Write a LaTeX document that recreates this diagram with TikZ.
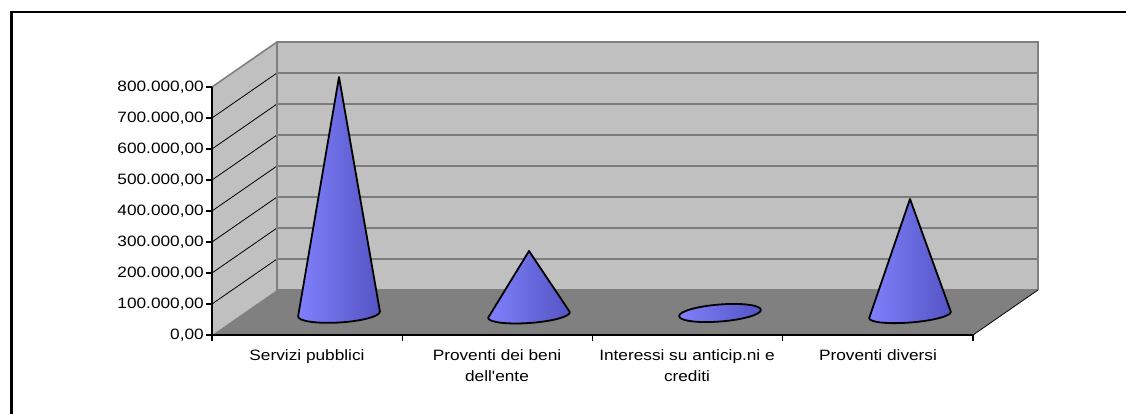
\documentclass[tikz,border=0pt]{standalone}
\usepackage{fontspec}
\newfontfamily\arialx[FakeStretch=1.15]{Liberation Sans}
\definecolor{wallgray}{RGB}{192,192,192}
\definecolor{floorgray}{RGB}{128,128,128}
\definecolor{conelight}{RGB}{128,128,252}
\definecolor{conedark}{RGB}{84,84,196}
\begin{document}
\begin{tikzpicture}[x=1pt,y=-1pt,
  lbl/.style={font=\arialx\fontsize{15}{21}\selectfont, inner sep=0pt, text=black},
  edge/.style={draw=floorgray, line width=1.6pt},
  grid/.style={draw=black, line width=0.8pt},
  axis/.style={draw=black, line width=1.2pt},
  cone/.style={left color=conelight, right color=conedark, draw=black, line width=1.8pt, line join=round}]
\useasboundingbox (0,0) rectangle (1126,414);
\fill[white] (0,0) rectangle (1126,414);
\draw[line width=2.2pt] (11.5,414) -- (11.5,12) -- (1126,12);
% walls and floor
\fill[wallgray] (212,335) -- (212,87) -- (277,42) -- (277,290) -- cycle;
\fill[wallgray] (277,42) rectangle (1038,290);
\fill[floorgray] (212,335) -- (277,290) -- (1038,290) -- (973,335) -- cycle;
% gridlines
\foreach \k in {1,...,7}{
  \pgfmathsetmacro{\yy}{335-31*\k}
  \draw[grid] (212,\yy) -- (277,\yy-45) -- (1038,\yy-45);
}
% wall edges
\draw[edge] (212,87) -- (277,42) -- (1038,42) -- (1038,290);
\draw[edge] (277,42) -- (277,290) -- (1038,290);
\draw[grid] (973,335) -- (1038,290);
% axes
\draw[axis] (212,87) -- (212,335) -- (973,335);
\foreach \k in {0,...,8}{
  \draw[axis] (206,335-31*\k) -- (212,335-31*\k);
}
\foreach \xx in {212,402.25,592.5,782.75,973}{
  \draw[axis] (\xx,335) -- (\xx,341);
}
% value labels
\node[lbl, anchor=east] (y0) at (204,335) {0,00};
\node[lbl, anchor=east] (y1) at (204,304) {100.000,00};
\node[lbl, anchor=east] (y2) at (204,273) {200.000,00};
\node[lbl, anchor=east] (y3) at (204,242) {300.000,00};
\node[lbl, anchor=east] (y4) at (204,211) {400.000,00};
\node[lbl, anchor=east] (y5) at (204,180) {500.000,00};
\node[lbl, anchor=east] (y6) at (204,149) {600.000,00};
\node[lbl, anchor=east] (y7) at (204,118) {700.000,00};
\node[lbl, anchor=east] (y8) at (204,87) {800.000,00};
% category labels
\node[lbl, anchor=north, align=center] (c1) at (307,349) {Servizi pubblici};
\node[lbl, anchor=north, align=center] (c2) at (497,349) {Proventi dei beni\\dell'ente};
\node[lbl, anchor=north, align=center] (c3) at (687,349) {Interessi su anticip.ni e\\crediti};
\node[lbl, anchor=north, align=center] (c4) at (878,349) {Proventi diversi};
% cones
\coordinate (a1) at (339,77);
\coordinate (a2) at (529,251);
\coordinate (a4) at (910,199);
\begin{scope}[shift={(339,314)}, rotate=3.5]
  \path[cone] (-41,0) -- (a1) -- (41,0) arc[start angle=0, end angle=180, x radius=41, y radius=8.5] -- cycle;
\end{scope}
\begin{scope}[shift={(529,315)}, rotate=4]
  \path[cone] (-41,0) -- (a2) -- (41,0) arc[start angle=0, end angle=180, x radius=41, y radius=8] -- cycle;
\end{scope}
\begin{scope}[shift={(720,313)}, rotate=4.5]
  \path[cone] (0,0) ellipse[x radius=41, y radius=8.5];
\end{scope}
\begin{scope}[shift={(910,315)}, rotate=4.5]
  \path[cone] (-41,0) -- (a4) -- (41,0) arc[start angle=0, end angle=180, x radius=41, y radius=7.5] -- cycle;
\end{scope}
\end{tikzpicture}
\end{document}
